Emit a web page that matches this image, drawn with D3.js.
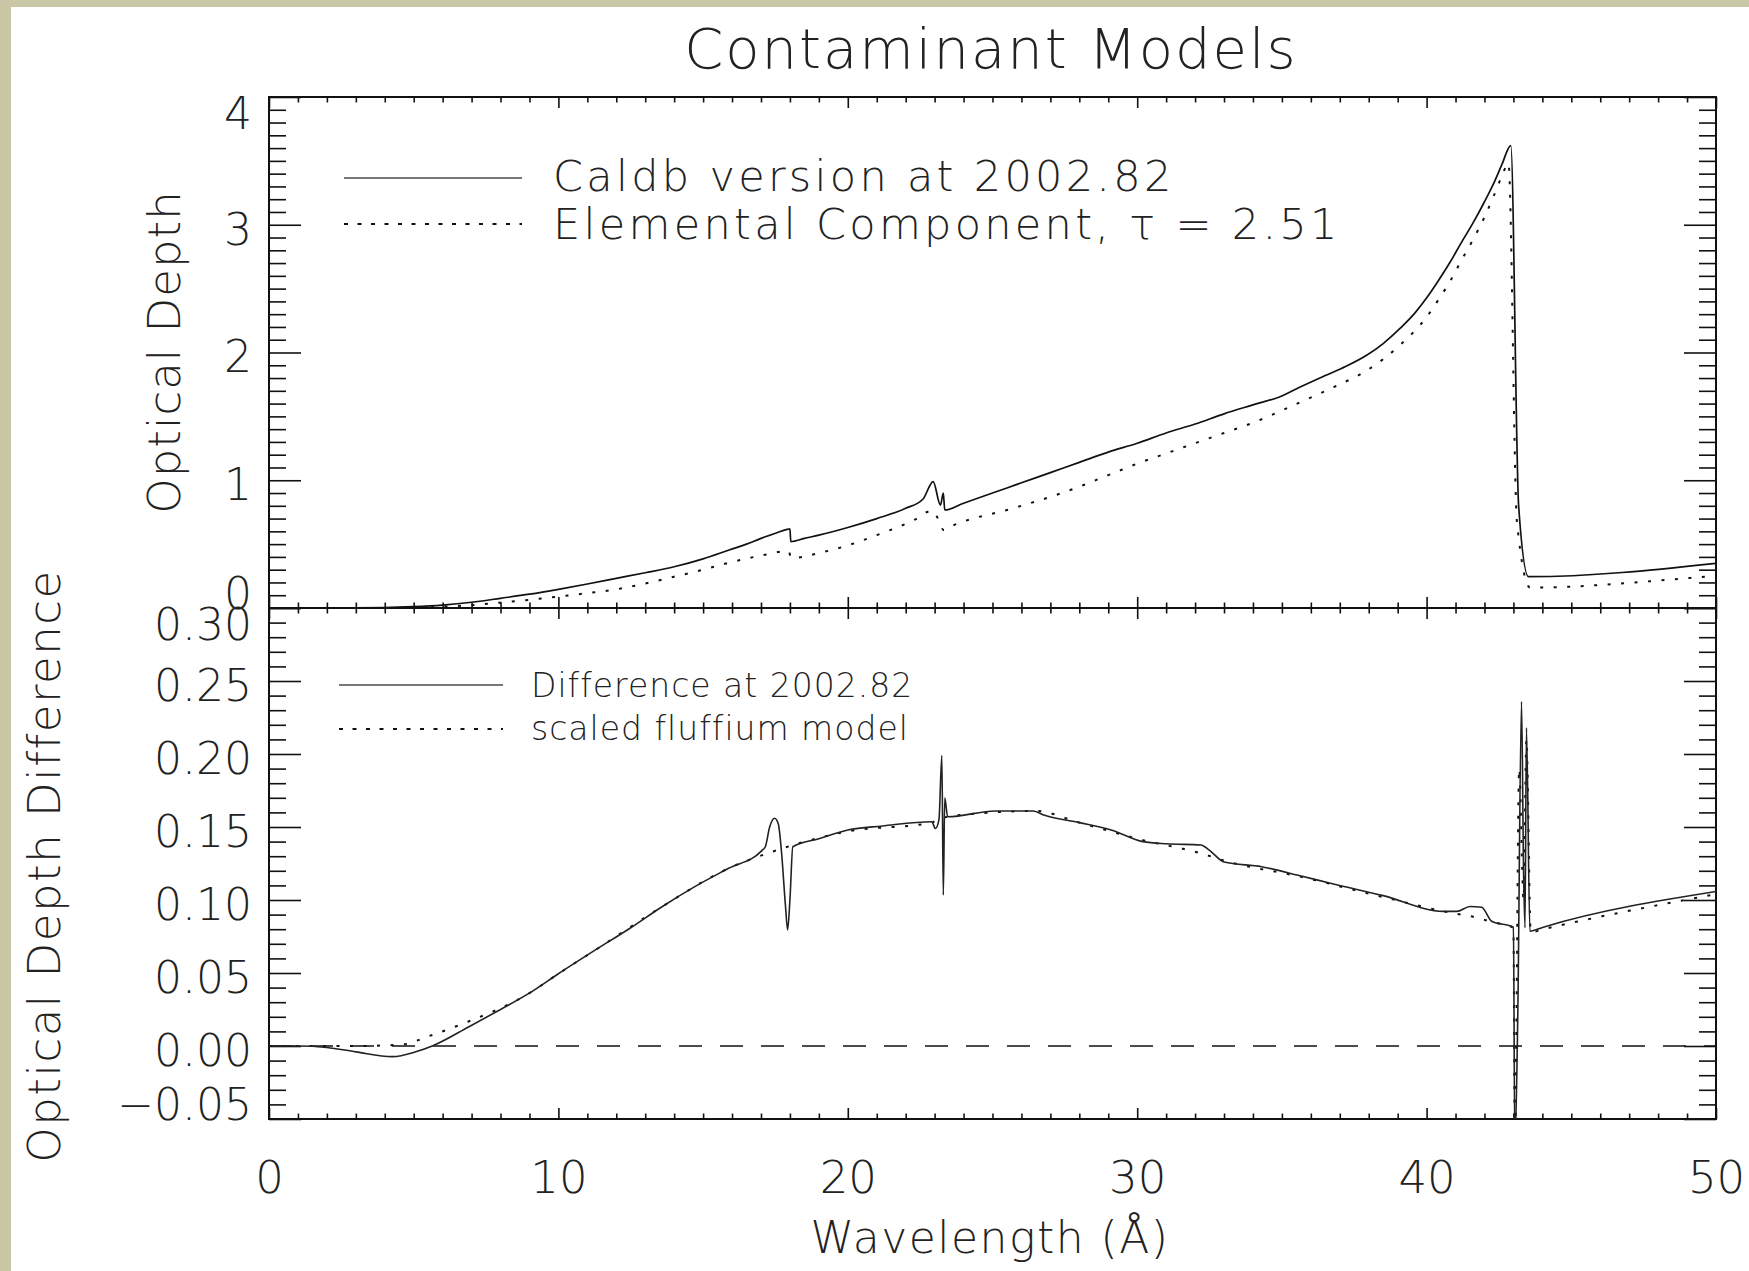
<!DOCTYPE html>
<html>
<head>
<meta charset="utf-8">
<title>Contaminant Models</title>
<script src="https://d3js.org/d3.v7.min.js"></script>
<style>
  body { margin: 0; background: #c9c7a5; overflow: hidden; }
  svg text { font-family: "DejaVu Sans", sans-serif; font-weight: 200; fill: #222; }
  .tick line { stroke: #111; stroke-width: 1.6; }
  .domain { display: none; }
  .frame { fill: none; stroke: #111; stroke-width: 2; }
</style>
</head>
<body>
<svg id="chart" width="1749" height="1271"></svg>
<script>
// values: [wavelength (A), value]
const caldb = [[0,0],[2,0],[4,0.003],[5,0.01],[6,0.023],[7,0.045],[8,0.076],[9,0.108],[10,0.146],
  [11,0.188],[12,0.232],[13,0.276],[14,0.323],[15,0.385],[15.9,0.454],[16.5,0.5],[17,0.545],
  [17.5,0.585],[17.9,0.615],[18.0,0.62],[18.03,0.52],[18.5,0.545],[19,0.57],[20,0.63],[21,0.70],
  [22,0.78],[22.6,0.853],[22.95,0.99],[23.2,0.806],[23.3,0.90],[23.35,0.767],[24,0.82],[25,0.90],
  [26,0.98],[27,1.06],[28,1.14],[29,1.22],[30,1.29],[31,1.37],[32,1.44],[33,1.52],[34,1.59],
  [35,1.66],[35.63,1.73],[36.5,1.82],[37.2,1.89],[37.94,1.98],[38.5,2.07],[39.09,2.19],[39.6,2.31],
  [40.01,2.43],[40.4,2.56],[40.82,2.71],[41.2,2.86],[41.62,3.02],[42,3.18],[42.31,3.32],[42.6,3.47],
  [42.91,3.62],[43.18,0.80],[43.52,0.245],[50,0.35]];

const elemental = [[0,0],[4,0],[5,0.004],[6,0.01],[7,0.022],[8,0.042],[9,0.064],[10,0.089],
  [11,0.116],[12,0.146],[13,0.192],[14,0.245],[15,0.30],[15.9,0.355],[17,0.41],[17.95,0.445],
  [18.05,0.39],[19,0.43],[20,0.49],[21,0.57],[22.3,0.69],[22.9,0.76],[23.2,0.66],[23.3,0.61],
  [23.6,0.642],[25.7,0.78],[27,0.87],[28,0.95],[29,1.04],[30,1.13],[31,1.21],[32,1.29],[33,1.37],
  [34,1.45],[35.63,1.61],[36.8,1.73],[37.94,1.86],[39.09,2.06],[40.01,2.28],[40.4,2.41],[40.82,2.56],
  [41.2,2.72],[41.62,2.89],[42,3.06],[42.31,3.22],[42.6,3.38],[42.83,3.48],[43.12,0.68],[43.58,0.16],
  [49.69,0.245],[50,0.25]];

const difference = [[0,0],[1,0],[2,-0.001],[3,-0.004],[4.26,-0.0073],[5.07,-0.004],[5.64,0],
  [6.91,0.0132],[8,0.025],[8.98,0.036],[10,0.0495],[11.28,0.0658],[12.5,0.081],[13.58,0.0954],
  [14.7,0.109],[15.88,0.1217],[17.03,0.1338],[17.15,0.1365],[17.3,0.150],[17.47,0.156],
  [17.6,0.152],[17.7,0.135],[17.85,0.095],[17.92,0.0795],[18.0,0.10],[18.1,0.1365],[19,0.142],
  [20,0.148],[21.2,0.1507],[22.9,0.1536],[23.03,0.149],[23.15,0.155],[23.25,0.199],[23.3,0.1034],
  [23.35,0.17],[23.45,0.157],[25.1,0.161],[26.4,0.161],[26.8,0.158],[28,0.153],[29.1,0.148],
  [30.2,0.140],[31,0.1385],[32.2,0.1377],[32.5,0.134],[33.0,0.126],[34.3,0.1228],[35.63,0.1166],
  [36.78,0.111],[38.5,0.103],[40.58,0.0922],[41.04,0.0922],[41.5,0.0955],[41.9,0.095],
  [42.25,0.0854],[43.0,0.0814],[43.05,-0.07],[43.15,0.02],[43.28,0.236],[43.35,0.12],[43.4,0.081],
  [43.45,0.218],[43.57,0.0786],[44.03,0.0814],[50,0.1058]];

const fluffium = [[0,0],[3,0],[4.6,0.001],[5.5,0.0066],[6.7,0.0153],[8.98,0.036],[10,0.0495],
  [11.28,0.0658],[13.58,0.0954],[15.88,0.1217],[17.38,0.133],[18,0.137],[20,0.147],[22.9,0.153],
  [23.2,0.156],[25,0.16],[26.5,0.161],[28,0.153],[30.2,0.141],[32.2,0.132],[33,0.127],[35.63,0.116],
  [38.5,0.102],[41.04,0.0905],[41.5,0.089],[42.25,0.085],[43.0,0.081],[43.05,-0.07],[43.2,0.19],
  [43.35,0.10],[43.45,0.21],[43.6,0.078],[44.03,0.080],[50,0.104]];

const zeroLine = [[0,0],[50,0]];

const xMajor = [0,10,20,30,40,50];
const topMajor = [0,1,2,3,4];
const botMajor = [-0.05,0,0.05,0.10,0.15,0.20,0.25,0.30];

const titleText = "Contaminant Models";
const topLegend = ["Caldb version at 2002.82", "Elemental Component, "];
const botLegend = ["Difference at 2002.82", "scaled fluffium model"];

const svg = d3.select("#chart");
svg.append("rect").attr("x", 11).attr("y", 7).attr("width", 1749).attr("height", 1271).attr("fill", "white");

const left = 269, right = 1716, top1 = 97, mid = 608, bottom2 = 1119;
const x = d3.scaleLinear().domain([0, 50]).range([left, right]);
const yTop = d3.scaleLinear().domain([0, 4]).range([mid, top1]);
const yBot = d3.scaleLinear().domain([-0.05, 0.30]).range([bottom2, mid]);

const xMinor = d3.range(0, 51).filter(v => v % 10 !== 0);
const topMinor = d3.range(0, 41).filter(i => i % 10 !== 0).map(i => i / 10);
const botMinor = d3.range(-5, 31).filter(i => i % 5 !== 0).map(i => i / 100);

function ticks(y, major, minor) {
  const y0 = y.range()[0], y1 = y.range()[1];
  const sets = [
    [() => d3.axisBottom(x), `translate(0,${y0})`, 11, 5.5, xMajor, xMinor],
    [() => d3.axisTop(x), `translate(0,${y1})`, 11, 5.5, xMajor, xMinor],
    [() => d3.axisLeft(y), `translate(${left},0)`, 32, 17, major, minor],
    [() => d3.axisRight(y), `translate(${right},0)`, 32, 17, major, minor]
  ];
  sets.forEach(([mk, tr, big, small, mj, mn]) => {
    svg.append("g").attr("transform", tr)
      .call(mk().tickValues(mj).tickSize(-big).tickFormat(""));
    svg.append("g").attr("transform", tr)
      .call(mk().tickValues(mn).tickSize(-small).tickFormat(""));
  });
  svg.append("rect").attr("class", "frame")
    .attr("x", left).attr("y", y1).attr("width", right - left).attr("height", y0 - y1);
}
ticks(yTop, topMajor, topMinor);
ticks(yBot, botMajor, botMinor);

// y tick labels, end labels pushed inward like the original
function yLabels(y, vals, fmt) {
  const g = svg.append("g").attr("transform", `translate(${left},0)`)
    .call(d3.axisLeft(y).tickValues(vals).tickSize(0).tickPadding(17).tickFormat(fmt));
  const [lo, hi] = y.domain();
  g.selectAll("text").attr("font-size", 44).attr("fill", "#222")
    .attr("font-family", null)
    .attr("dy", d => Math.abs(d - hi) < 1e-9 ? "0.72em" : Math.abs(d - lo) < 1e-9 ? "0.02em" : "0.44em");
}
yLabels(yTop, topMajor, d3.format("d"));
yLabels(yBot, botMajor, d3.format(".2f"));

const xl = svg.append("g").attr("transform", `translate(0,${bottom2})`)
  .call(d3.axisBottom(x).tickValues(xMajor).tickSize(0).tickPadding(42).tickFormat(d3.format("d")));
xl.selectAll("text").attr("font-size", 45).attr("fill", "#222").attr("font-family", null);

// curves
const defs = svg.append("defs");
defs.append("clipPath").attr("id", "clipTop").append("rect")
  .attr("x", left).attr("y", top1).attr("width", right - left).attr("height", mid - top1);
defs.append("clipPath").attr("id", "clipBot").append("rect")
  .attr("x", left).attr("y", mid).attr("width", right - left).attr("height", bottom2 - mid);

const lineTop = d3.line().curve(d3.curveMonotoneX).x(d => x(d[0])).y(d => yTop(d[1]));
const lineBot = d3.line().curve(d3.curveMonotoneX).x(d => x(d[0])).y(d => yBot(d[1]));

const gt = svg.append("g").attr("clip-path", "url(#clipTop)").attr("fill", "none");
gt.append("path").attr("d", lineTop(elemental)).attr("stroke", "#111").attr("stroke-width", 2)
  .attr("stroke-dasharray", "3,10.5");
gt.append("path").attr("d", lineTop(caldb)).attr("stroke", "#111").attr("stroke-width", 1.7);

const gb = svg.append("g").attr("clip-path", "url(#clipBot)").attr("fill", "none");
gb.append("path").attr("d", lineBot(zeroLine)).attr("stroke", "#111").attr("stroke-width", 1.7)
  .attr("stroke-dasharray", "23,18");
gb.append("path").attr("d", lineBot(fluffium)).attr("stroke", "#111").attr("stroke-width", 2)
  .attr("stroke-dasharray", "3,10.5");
gb.append("path").attr("d", lineBot(difference)).attr("stroke", "#222").attr("stroke-width", 1.6);

// legends
function legendRow(x1, x2, ly, tx, ty, size, spacing, label, dotted, tau) {
  svg.append("line").attr("x1", x1).attr("x2", x2).attr("y1", ly).attr("y2", ly)
    .attr("stroke", dotted ? "#111" : "#777").attr("stroke-width", dotted ? 2 : 2.2)
    .attr("stroke-dasharray", dotted ? "4,9.5" : null);
  const t = svg.append("text").attr("x", tx).attr("y", ty).attr("font-size", size)
    .attr("letter-spacing", spacing).text(label);
  if (tau) {
    t.append("tspan").text("\u03C4 = " + tau);
  }
}
legendRow(344, 522, 178, 553, 191, 43, 3.3, topLegend[0], false);
legendRow(344, 522, 224, 553, 239, 43, 3.3, topLegend[1], true, "2.51");
legendRow(339, 503, 685, 531, 697, 33, 1, botLegend[0], false);
legendRow(339, 503, 729, 531, 740, 33, 1, botLegend[1], true);

// titles
svg.append("text").attr("x", 991).attr("y", 68).attr("text-anchor", "middle")
  .attr("font-size", 56).attr("letter-spacing", 2).text(titleText);
svg.append("text").attr("transform", "translate(180,352) rotate(-90)").attr("text-anchor", "middle")
  .attr("font-size", 45).attr("letter-spacing", 1).text("Optical Depth");
svg.append("text").attr("transform", "translate(60,866) rotate(-90)").attr("text-anchor", "middle")
  .attr("font-size", 45).attr("letter-spacing", 1.5).text("Optical Depth Difference");
svg.append("text").attr("x", 990).attr("y", 1253).attr("text-anchor", "middle")
  .attr("font-size", 44).attr("letter-spacing", 1.5).text("Wavelength (\u00C5)");
</script>
</body>
</html>
